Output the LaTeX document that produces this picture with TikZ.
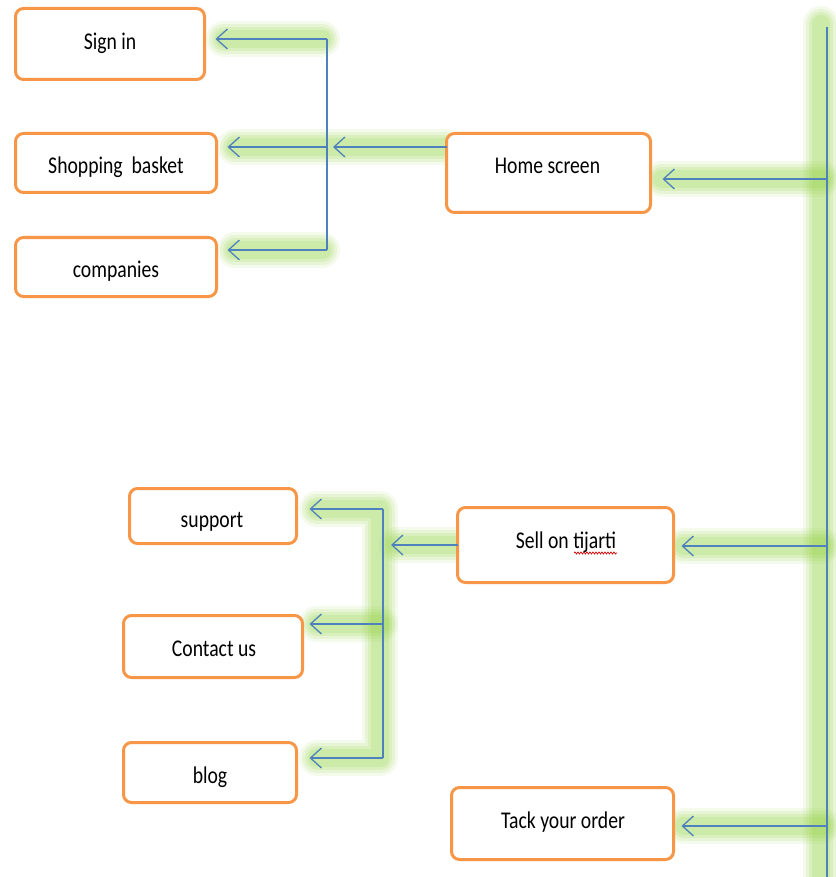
\documentclass[tikz,border=0pt]{standalone}
\usepackage{fontspec}
\setmainfont[FakeStretch=0.82]{Carlito}
\usetikzlibrary{arrows.meta,decorations.pathmorphing}
\definecolor{boxor}{RGB}{247,150,70}
\definecolor{lnblue}{RGB}{79,129,189}
\definecolor{glowc}{RGB}{150,212,70}
\newcommand\glowpath[1]{%
  \foreach \gw/\go in {36/0.10,30/0.13,24/0.16,18/0.18}{%
    \draw[glowc,line width=\gw pt,opacity=\go,line cap=round,line join=round] #1;}%
}
\tikzset{
  boxnode/.style={draw=boxor,line width=3pt,rounded corners=8pt,fill=white,inner sep=0pt,outer sep=0pt},
  txt/.style={anchor=base,inner sep=0pt,font=\fontsize{24}{28}\selectfont,text=black},
  conn/.style={draw=lnblue,line width=1.3pt},
  arr/.style={conn,-{Straight Barb[length=11pt,width=20pt,line width=1.3pt]}}
}
\begin{document}
\begin{tikzpicture}[x=1pt,y=-1pt]
\useasboundingbox[fill=white] (0,0) rectangle (835,877);
% glows
\glowpath{(224,39) -- (322,39)}
\glowpath{(235,147) -- (445,147)}
\glowpath{(235,250) -- (322,250)}
\glowpath{(662,179) -- (822,179)}
\glowpath{(821,24) -- (821,895)}
\glowpath{(317,509) -- (380,509) -- (380,758) -- (317,758)}
\glowpath{(317,624) -- (380,624)}
\glowpath{(397,545) -- (456,545)}
\glowpath{(684,546) -- (822,546)}
\glowpath{(684,826) -- (822,826)}
% coordinates
\coordinate (tA) at (327,39);
\coordinate (tB) at (327,147);
\coordinate (tC) at (327,250);
\coordinate (rTop) at (827,27);
\coordinate (rBot) at (827,877);
\coordinate (rH) at (827,179);
\coordinate (rS) at (827,546);
\coordinate (rT) at (827,826);
\coordinate (mA) at (383,509);
\coordinate (mS) at (383,545);
\coordinate (mB) at (383,624);
\coordinate (mC) at (383,758);
% boxes
\node[boxnode,minimum width=189pt,minimum height=71pt] (signin) at (110,44) {};
\node[boxnode,minimum width=201pt,minimum height=59pt] (shop) at (116,163) {};
\node[boxnode,minimum width=201pt,minimum height=59pt] (comp) at (116,267) {};
\node[boxnode,minimum width=204pt,minimum height=79pt] (home) at (548.5,173) {};
\node[boxnode,minimum width=167pt,minimum height=55pt] (support) at (213,516) {};
\node[boxnode,minimum width=179pt,minimum height=62pt] (contact) at (213,646.5) {};
\node[boxnode,minimum width=173pt,minimum height=60pt] (blog) at (210,772.5) {};
\node[boxnode,minimum width=216pt,minimum height=75pt] (sell) at (565.5,545) {};
\node[boxnode,minimum width=222pt,minimum height=72pt] (tack) at (562.5,823.5) {};
% texts
\node[txt] (tsignin) at (110,50) {Sign in};
\node[txt] (tshop) at (116,174) {Shopping\ \ basket};
\node[txt] (tcomp) at (116,277) {companies};
\node[txt] (thome) at (547.5,174) {Home screen};
\node[txt] (tsupport) at (212,527) {support};
\node[txt] (tcontact) at (214,656) {Contact us};
\node[txt] (tblog) at (210,783) {blog};
\node[txt] (tsell) at (566,548) {Sell on tijarti};
\node[txt] (ttack) at (563,828) {Tack your order};
\draw[red!85!black,line width=0.7pt,decorate,decoration={snake,amplitude=1pt,segment length=3pt}] (574,553) -- (617,553);
% connectors
\draw[conn] (tA) -- (tC);
\draw[arr,shorten >=11pt] (tA) -- (signin.east |- tA);
\draw[arr,shorten >=11pt] (tB) -- (shop.east |- tB);
\draw[arr,shorten >=11pt] (tC) -- (comp.east |- tC);
\draw[arr,shorten >=6pt] (home.west |- tB) -- (tB);
\draw[conn] (rTop) -- (rBot);
\draw[arr,shorten >=12pt] (rH) -- (home.east |- rH);
\draw[arr,shorten >=8pt] (rS) -- (sell.east |- rS);
\draw[arr,shorten >=8pt] (rT) -- (tack.east |- rT);
\draw[conn] (mA) -- (mC);
\draw[arr,shorten >=8pt] (sell.west |- mS) -- (mS);
\draw[arr,shorten >=13pt] (mA) -- (support.east |- mA);
\draw[arr,shorten >=7pt] (mB) -- (contact.east |- mB);
\draw[arr,shorten >=13pt] (mC) -- (blog.east |- mC);
\end{tikzpicture}
\end{document}
